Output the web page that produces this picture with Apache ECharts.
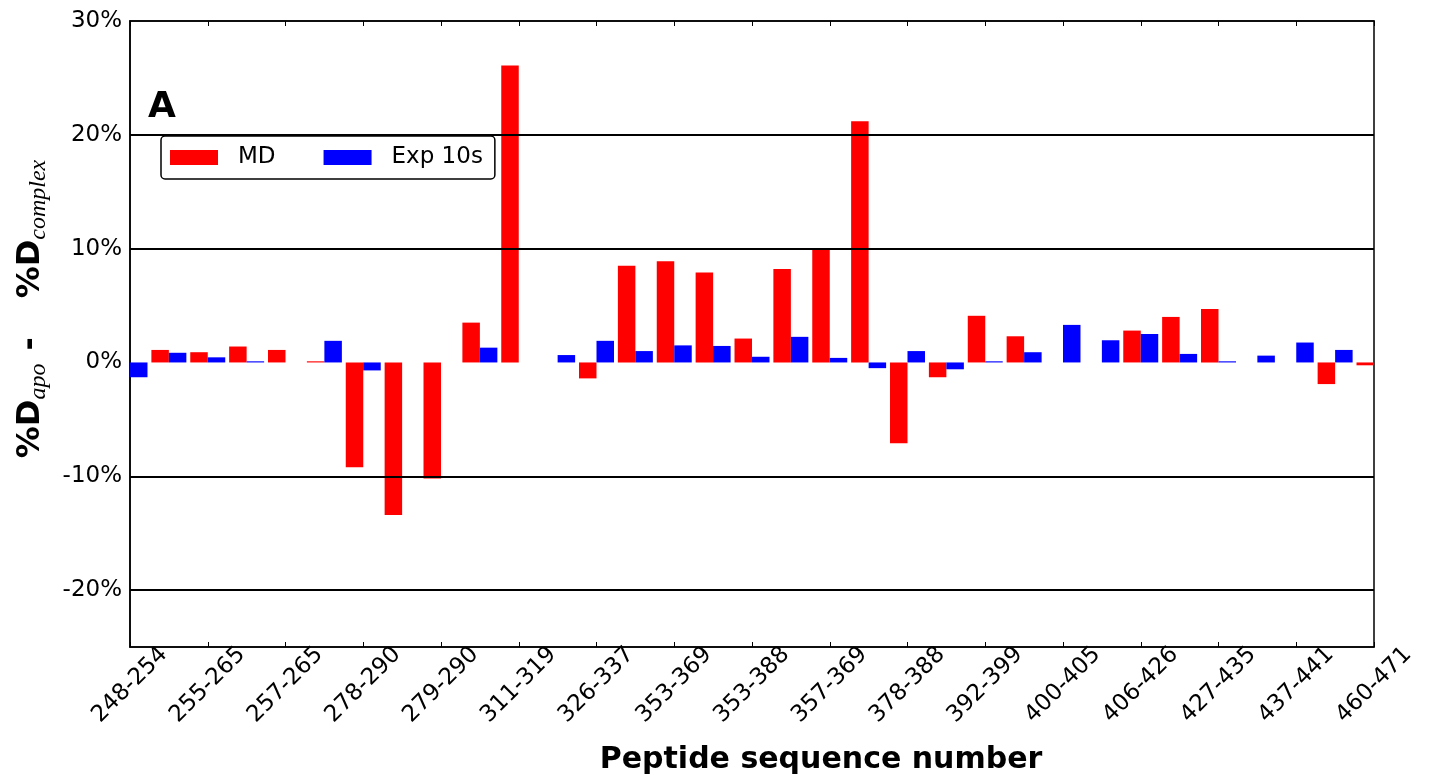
<!DOCTYPE html>
<html><head><meta charset="utf-8">
<script src="https://cdn.jsdelivr.net/npm/echarts@6/dist/echarts.min.js"></script>
<style>html,body{margin:0;padding:0;background:#fff}#c{width:1432px;height:782px}</style>
</head><body><div id="c"></div>
<script>
// Tick labels shown at every second peptide (index 0,2,...,32)
const tickLabels = ['248-254','255-265','257-265','278-290','279-290','311-319','326-337','353-369','353-388','357-369','378-388','392-399','400-405','406-426','427-435','437-441','460-471'];
// %D_apo - %D_complex per peptide index 0..32
const mdValues  = [null,1.1,0.9,1.4,1.1,0.1,-9.2,-13.4,-10.2,3.5,26.1,0,-1.4,8.5,8.9,7.9,2.1,8.2,9.9,21.2,-7.1,-1.3,4.1,2.3,0,0,2.8,4.0,4.7,0,0,-1.9,-0.25];
const expValues = [-1.3,0.85,0.45,0.1,0,1.9,-0.7,0,0,1.3,0,0.65,1.9,1.0,1.5,1.45,0.5,2.25,0.4,-0.5,1.0,-0.6,0.1,0.9,3.3,1.95,2.5,0.75,0.1,0.6,1.75,1.1,null];
const gridLevels = [-20,-10,10,20];

const FONT = 'DejaVu Sans';
const chart = echarts.init(document.getElementById('c'), null, {renderer:'canvas'});
const pairs = arr => arr.map((v,i)=>[i, v]);

const xBase = {
  type:'value', min:0, max:32, interval:2,
  axisLine:{show:true, onZero:false, lineStyle:{color:'#000', width:1.5}},
  axisTick:{show:true, inside:true, length:5, lineStyle:{color:'#000', width:1}},
  splitLine:{show:false}
};

chart.setOption({
  animation:false,
  backgroundColor:'#fff',
  textStyle:{fontFamily:FONT},
  grid:{left:130, top:21, width:1244, height:626, show:true, borderColor:'#000', borderWidth:1.5, backgroundColor:'transparent'},
  legend:{
    left:161, top:136, orient:'horizontal', itemWidth:48, itemHeight:15, itemGap:48,
    padding:[10,12,10,9], borderColor:'#000', borderWidth:1.5, borderRadius:4, backgroundColor:'#fff',
    textStyle:{fontSize:23, color:'#000', fontFamily:FONT, padding:[0,0,0,15]},
    data:[{name:'MD', icon:'rect'},{name:'Exp 10s', icon:'rect'}]
  },
  graphic:[{type:'text', left:148, top:90, style:{text:'A', font:'bold 36px "DejaVu Sans"', fill:'#000'}}],
  xAxis:[
    Object.assign({}, xBase, {
      position:'bottom',
      axisLabel:{rotate:45, align:'center', verticalAlign:'middle', margin:38, fontSize:23, color:'#000', fontFamily:FONT,
        formatter: v => tickLabels[Math.round(v/2)] ?? ''},
      name:'Peptide sequence number', nameLocation:'middle', nameGap:98,
      nameTextStyle:{fontSize:30, fontWeight:'bold', color:'#000', fontFamily:FONT, padding:[0,0,0,138], verticalAlign:'top'}
    }),
    Object.assign({}, xBase, {position:'top', axisLabel:{show:false}})
  ],
  yAxis:{
    type:'value', min:-25, max:30, interval:5,
    axisLine:{show:true, lineStyle:{color:'#000', width:1.5}},
    axisTick:{show:false},
    splitLine:{show:false},
    axisLabel:{fontSize:23, color:'#000', margin:8, fontFamily:FONT, formatter: v => (v % 10 === 0 ? v + '%' : '')},
    name:'{b|%D}{s|apo}{h|-}{b|%D}{s|complex}',
    nameLocation:'middle', nameRotate:90, nameGap:79,
    nameTextStyle:{
      padding:[0,0,0,50],
      rich:{
        b:{fontSize:32, fontWeight:'bold', fontFamily:FONT, color:'#000', lineHeight:40, verticalAlign:'middle'},
        h:{fontSize:32, fontWeight:'bold', fontFamily:FONT, color:'#000', lineHeight:40, verticalAlign:'middle', padding:[0,39,0,13]},
        s:{fontSize:24, fontStyle:'italic', fontFamily:'Liberation Serif', color:'#000', lineHeight:24, verticalAlign:'bottom'}
      }
    }
  },
  series:[
    {
      name:'MD', type:'bar', xAxisIndex:0, data:pairs(mdValues), barWidth:'45%', barGap:'0%',
      itemStyle:{color:'#ff0000'}, emphasis:{disabled:true},
      markLine:{silent:true, symbol:['none','none'], label:{show:false}, emphasis:{disabled:true},
        lineStyle:{color:'#000', width:2, type:'solid'}, data:gridLevels.map(v=>({yAxis:v}))}
    },
    {
      name:'Exp 10s', type:'bar', xAxisIndex:0, data:pairs(expValues), barWidth:'45%', barGap:'0%',
      itemStyle:{color:'#0000ff'}, emphasis:{disabled:true}
    }
  ]
});
</script></body></html>
